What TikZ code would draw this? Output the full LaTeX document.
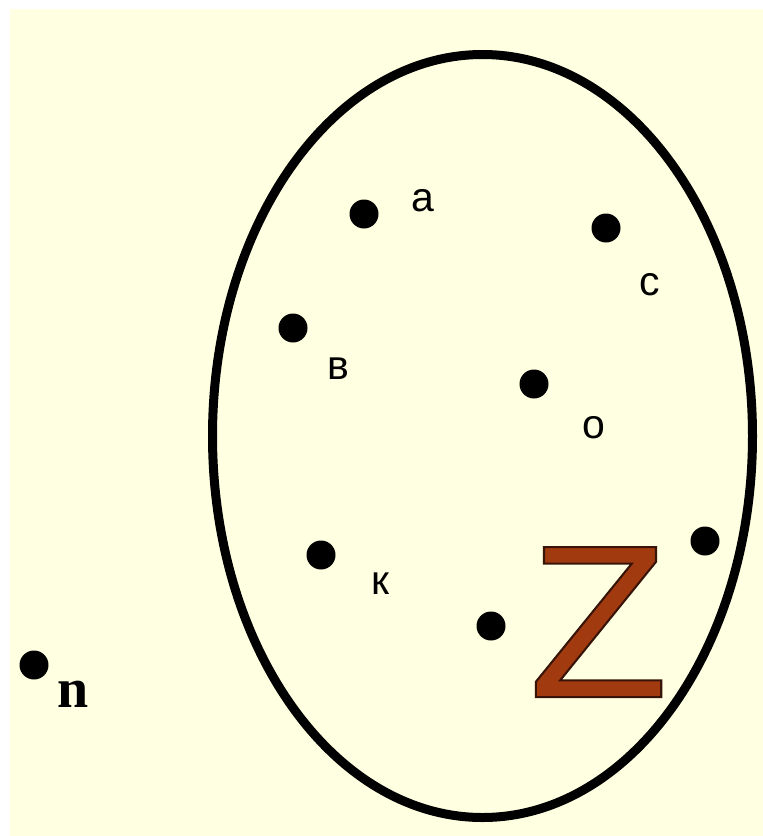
\documentclass[tikz,border=0pt]{standalone}
\usepackage{fontspec}
\usetikzlibrary{shapes.geometric}
\setmainfont{Liberation Sans}
\newfontfamily\serifbold{Liberation Serif}[BoldFont={* Bold}]
\definecolor{cream}{HTML}{FFFFE1}
\definecolor{zbrown}{HTML}{A23A10}
\tikzset{
  pt/.style={circle, fill=black, inner sep=0pt, minimum size=29pt},
  lbl/.style={anchor=base, inner sep=0pt, font=\fontsize{41}{41}\selectfont},
}
\begin{document}
\begin{tikzpicture}[x=1pt,y=-1pt]
\useasboundingbox (0,0) rectangle (763,836);
\fill[white] (-20,-20) rectangle (790,860);
\fill[cream] (10,9) rectangle (790,860);
\node[draw=black, line width=9pt, ellipse, minimum width=540pt, minimum height=763pt, inner sep=0pt] (E) at (482.5,436) {};
% dots
\node[pt] (da) at (364,214) {};
\node[pt] (dc) at (606,228) {};
\node[pt] (dv) at (293,328) {};
\node[pt] (do) at (534,384) {};
\node[pt] (dk) at (321,555) {};
\node[pt] (dx) at (491,626) {};
\node[pt] (dy) at (705,541) {};
\node[pt] (dn) at (34,665) {};
% labels
\node[lbl] (la) at (423,211) {а};
\node[lbl] (lc) at (650,295) {с};
\node[lbl] (lv) at (338,379) {в};
\node[lbl] (lo) at (594,438) {о};
\node[lbl] (lk) at (380,594) {к};
\node[anchor=base, inner sep=0pt, font=\serifbold\bfseries\fontsize{56}{56}\selectfont] (ln) at (73,707) {n};
% Z
\node[anchor=base, inner sep=0pt] (Z) at (598.5,697) {\fontsize{218}{218}\selectfont\color{zbrown}\special{pdf:code 2 Tr 0.22 0.08 0.03 RG 2 w}\scalebox{1.05}[1]{Z}\special{pdf:code 0 Tr}};
\end{tikzpicture}
\end{document}
